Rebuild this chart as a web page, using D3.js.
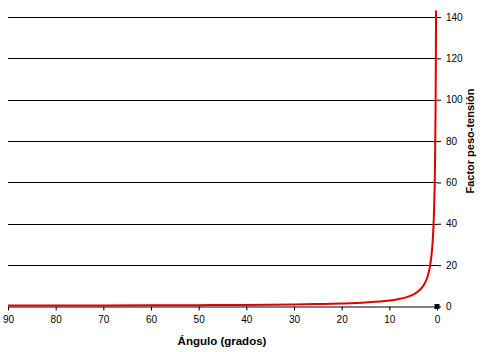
<!DOCTYPE html>
<html>
<head>
<meta charset="utf-8">
<script src="https://cdn.jsdelivr.net/npm/d3@7"></script>
<style>
body { margin: 0; background: white; }
text { font-family: "Liberation Sans", Arial, sans-serif; }
</style>
</head>
<body>
<div id="vizContainer"></div>
<script>
let w = 484;
let h = 352;

// angle in degrees and weight-tension factor
let angles = [90, 80, 70, 60, 50, 45, 40, 30, 25, 20, 15, 10, 8, 6, 5, 4, 3, 2.5, 2, 1.5, 1, 0.8, 0.6, 0.5, 0.4, 0.3, 0.25, 0.2];
let factors = [0.5, 0.51, 0.53, 0.58, 0.65, 0.71, 0.78, 1.0, 1.18, 1.46, 1.93, 2.88, 3.6, 4.8, 5.7, 7.2, 9.6, 11.5, 14.3, 19.1, 28.6, 35.8, 47.7, 57.3, 71.6, 95.5, 114.6, 143.2];
let xTicks = [90, 80, 70, 60, 50, 40, 30, 20, 10, 0];
let yTicks = [0, 20, 40, 60, 80, 100, 120, 140];

let viz = d3.select("#vizContainer").append("svg")
	.attr("width", w)
	.attr("height", h)
	.style("display", "block");

let xScale = d3.scaleLinear().domain([90, 0]).range([8, 437]);
let yScale = d3.scaleLinear().domain([0, 140]).range([306.5, 17]);

// gridlines
viz.append("g").selectAll("line").data(yTicks.filter(d => d > 0)).enter().append("line")
	.attr("x1", xScale(90))
	.attr("x2", xScale(0))
	.attr("y1", d => Math.round(yScale(d)) + 0.5)
	.attr("y2", d => Math.round(yScale(d)) + 0.5)
	.attr("stroke", "black")
	.attr("stroke-width", 1);

// right axis
let yAxis = d3.axisRight(yScale).tickValues(yTicks).tickSize(4).tickPadding(5);
let yg = viz.append("g").attr("transform", "translate(" + xScale(0) + ",0)").call(yAxis);
yg.select(".domain").remove();
yg.selectAll("text").attr("font-size", 10).attr("fill", "black");

// bottom axis
let xAxis = d3.axisBottom(xScale).tickValues(xTicks).tickSize(4).tickPadding(5).tickSizeOuter(0);
let xg = viz.append("g").attr("transform", "translate(0," + yScale(0) + ")").call(xAxis);
xg.selectAll("text").attr("font-size", 10).attr("fill", "black");

// data line
let points = angles.map((a, i) => [a, factors[i]]);
let line = d3.line()
	.x(d => xScale(d[0]))
	.y(d => yScale(d[1]))
	.curve(d3.curveMonotoneX);

viz.append("path")
	.datum(points)
	.attr("d", line)
	.attr("fill", "none")
	.attr("stroke", "#e00000")
	.attr("stroke-width", 2);

// corner marker
viz.append("rect")
	.attr("x", xScale(0) - 2.5)
	.attr("y", yScale(0) - 2.5)
	.attr("width", 5)
	.attr("height", 5)
	.attr("fill", "black");

// titles
viz.append("text")
	.attr("x", 222)
	.attr("y", 345)
	.attr("text-anchor", "middle")
	.attr("font-size", 11.5)
	.attr("font-weight", "bold")
	.text("Ángulo (grados)");

viz.append("text")
	.attr("transform", "translate(474,141) rotate(-90)")
	.attr("text-anchor", "middle")
	.attr("font-size", 11)
	.attr("font-weight", "bold")
	.text("Factor peso-tensión");
</script>
</body>
</html>
